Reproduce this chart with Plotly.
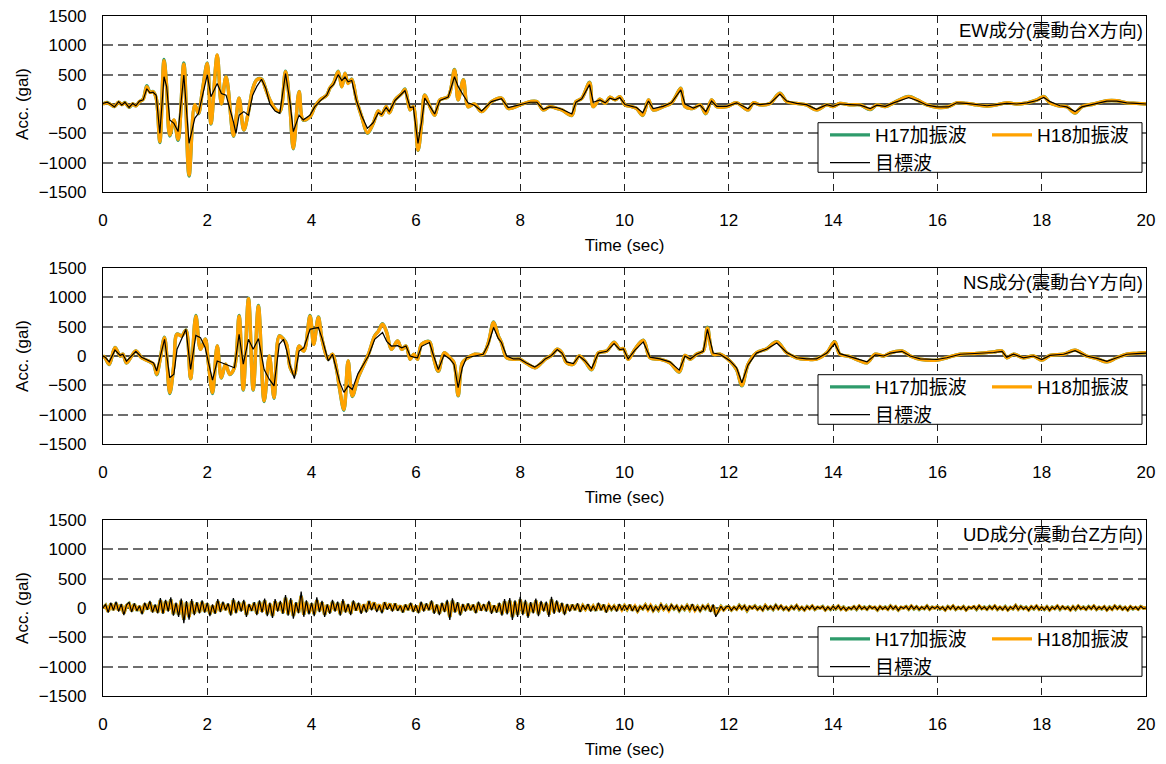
import numpy as np
import plotly.graph_objects as go

# ---------------------------------------------------------------- EW (X) ----
ew_time = [
    0.00, 0.08, 0.15, 0.22, 0.30, 0.36, 0.42, 0.50, 0.57, 0.63,
    0.70, 0.77, 0.84, 0.90, 0.96, 1.02, 1.09, 1.17, 1.22, 1.28,
    1.36, 1.44, 1.55, 1.65, 1.76, 1.83, 1.91, 2.00, 2.07, 2.19,
    2.27, 2.36, 2.50, 2.55, 2.61, 2.70, 2.79, 2.87, 2.95, 3.04,
    3.12, 3.20, 3.30, 3.39, 3.50, 3.58, 3.65, 3.76, 3.84, 3.97,
    4.06, 4.16, 4.29, 4.35, 4.42, 4.51, 4.58, 4.64, 4.70, 4.77,
    4.86, 4.96, 5.07, 5.18, 5.28, 5.34, 5.43, 5.49, 5.60, 5.73,
    5.79, 5.89, 5.95, 6.04, 6.11, 6.17, 6.27, 6.36, 6.46, 6.62,
    6.74, 6.81, 6.91, 7.00, 7.12, 7.26, 7.45, 7.64, 7.77, 8.00,
    8.19, 8.32, 8.44, 8.57, 8.70, 8.80, 8.99, 9.07, 9.18, 9.33,
    9.40, 9.53, 9.63, 9.72, 9.82, 9.91, 10.01, 10.14, 10.23, 10.35,
    10.46, 10.55, 10.74, 10.90, 10.98, 11.08, 11.16, 11.32, 11.45, 11.56,
    11.67, 11.77, 11.96, 12.15, 12.37, 12.47, 12.60, 12.79, 12.98, 13.11,
    13.30, 13.49, 13.68, 13.88, 14.00, 14.13, 14.32, 14.52, 14.71, 14.84,
    15.00, 15.16, 15.45, 15.61, 15.80, 15.99, 16.21, 16.37, 16.56, 16.76,
    16.95, 17.14, 17.33, 17.52, 17.72, 17.91, 18.04, 18.16, 18.35, 18.48,
    18.64, 18.77, 19.00, 19.25, 19.44, 19.63, 19.82, 20.00,
]
ew_h17 = [
    0, 25, -10, -45, 30, -10, 25, -55, 0, -30,
    40, 85, 310, 205, 215, 100, -655, 760, 305, -545,
    -275, -620, 700, -1230, -10, -165, 255, 700, -340, 830,
    0, 470, -550, -255, 100, -445, -130, 255, 415, 425,
    255, 70, -80, -135, 560, 0, -765, 215, -275, -215,
    -50, 70, 150, 270, 355, 560, 295, 525, 355, 425,
    70, -215, -500, -335, -120, -190, -45, -150, 70, 180,
    255, -100, -45, -790, -335, 155, -45, -190, 70, 125,
    590, 70, 415, -45, 0, -130, 40, 100, -75, -15,
    40, 40, -100, -45, -75, -100, -195, 40, 95, 370,
    -45, 80, 10, 115, 70, 125, -15, -45, -75, -195,
    70, -100, -45, 20, 125, 270, -45, -75, -15, -165,
    70, -45, -45, 20, -100, 20, -15, 10, 185, 40,
    10, -15, -100, -15, -45, 10, -15, -15, -95, -15,
    -45, 20, 130, 70, -15, -55, -45, 20, 10, -15,
    -35, -15, 20, 0, 20, 70, 130, 20, -35, -45,
    -155, -45, 0, 55, 55, 20, 10, 0,
]
ew_h18 = [
    0, 20, -10, -40, 30, -10, 20, -50, 0, -30,
    40, 80, 295, 200, 210, 100, -640, 740, 300, -530,
    -270, -600, 680, -1210, -10, -160, 250, 690, -330, 835,
    0, 465, -540, -250, 100, -440, -130, 250, 410, 420,
    250, 70, -80, -130, 550, 0, -755, 210, -270, -215,
    -50, 70, 150, 270, 350, 550, 295, 520, 350, 420,
    70, -215, -490, -330, -120, -190, -45, -150, 70, 180,
    250, -100, -45, -785, -330, 150, -45, -190, 70, 125,
    580, 70, 410, -45, 0, -130, 40, 100, -75, -15,
    40, 40, -100, -45, -75, -100, -190, 40, 95, 365,
    -45, 80, 10, 115, 70, 125, -15, -45, -75, -190,
    70, -100, -45, 20, 125, 265, -45, -75, -15, -160,
    70, -45, -45, 20, -100, 20, -15, 10, 180, 40,
    10, -15, -100, -15, -45, 10, -15, -15, -90, -15,
    -45, 20, 125, 70, -15, -55, -45, 20, 10, -15,
    -35, -15, 20, 0, 20, 70, 125, 20, -35, -45,
    -150, -45, 0, 55, 55, 20, 10, 0,
]
ew_target = [
    10, 30, -5, -50, 40, -20, 30, -60, 10, -30,
    50, 70, 260, 190, 200, 150, -500, 465, 295, -270,
    -330, -470, 495, -670, -245, -160, 150, 495, 125, 350,
    180, 150, -300, -500, -190, -130, -190, 150, 300, 420,
    270, 0, -120, -160, 520, 70, -470, -190, -270, -190,
    -50, 50, 150, 270, 330, 500, 400, 460, 380, 400,
    60, -200, -415, -320, -150, -180, -60, -130, 60, 170,
    230, -60, -50, -670, -300, 100, -40, -170, 60, 120,
    465, 300, 150, 20, -20, -120, 40, 90, -60, -10,
    30, 30, -90, -50, -60, -90, -170, 30, 90, 330,
    30, 70, 20, 100, 70, 110, -10, -40, -60, -150,
    50, -80, -40, 20, 110, 240, 0, -70, -20, -130,
    50, -40, -40, 20, -80, 10, -10, 10, 170, 50,
    10, -10, -90, -10, -40, 0, -10, -20, -80, -20,
    -40, 20, 110, 60, -20, -50, -50, 20, 10, -10,
    -30, -10, 10, 0, 20, 60, 110, 40, -30, -50,
    -130, -50, 0, 50, 50, 20, 10, 0,
]

# ---------------------------------------------------------------- NS (Y) ----
ns_time = [
    0.00, 0.04, 0.12, 0.23, 0.33, 0.38, 0.45, 0.55, 0.63, 0.74,
    0.87, 0.97, 1.03, 1.09, 1.18, 1.28, 1.36, 1.42, 1.51, 1.59,
    1.68, 1.78, 1.87, 1.96, 2.02, 2.10, 2.19, 2.27, 2.35, 2.43,
    2.52, 2.61, 2.69, 2.79, 2.88, 2.98, 3.09, 3.19, 3.28, 3.38,
    3.46, 3.52, 3.59, 3.67, 3.76, 3.85, 3.97, 4.04, 4.13, 4.20,
    4.32, 4.40, 4.48, 4.54, 4.62, 4.70, 4.78, 4.89, 4.99, 5.09,
    5.21, 5.28, 5.36, 5.44, 5.53, 5.65, 5.73, 5.81, 5.89, 5.96,
    6.03, 6.11, 6.26, 6.33, 6.43, 6.54, 6.65, 6.73, 6.81, 6.89,
    6.97, 7.13, 7.29, 7.39, 7.49, 7.58, 7.64, 7.74, 7.87, 7.99,
    8.12, 8.28, 8.41, 8.48, 8.60, 8.71, 8.80, 8.89, 9.02, 9.13,
    9.24, 9.37, 9.50, 9.66, 9.80, 9.91, 9.98, 10.07, 10.20, 10.36,
    10.49, 10.68, 10.87, 11.05, 11.16, 11.26, 11.38, 11.51, 11.59, 11.70,
    11.83, 12.02, 12.15, 12.25, 12.37, 12.53, 12.73, 12.92, 13.11, 13.30,
    13.49, 13.68, 13.88, 14.03, 14.13, 14.32, 14.52, 14.65, 14.81, 14.97,
    15.10, 15.32, 15.48, 15.67, 15.99, 16.18, 16.44, 16.76, 17.08, 17.24,
    17.33, 17.46, 17.65, 17.84, 18.00, 18.16, 18.42, 18.64, 18.86, 19.06,
    19.25, 19.44, 19.63, 19.82, 20.00,
]
ns_h17 = [
    0, -30, -145, 145, 0, 30, -120, 0, 85, -30,
    -85, -145, -320, -85, 320, -640, -140, 375, 345, 445,
    -390, 690, 115, 290, -115, -640, 170, -375, -140, -315,
    -200, 690, -580, 985, -580, 860, -775, 0, -720, 345,
    290, 200, -200, -315, 170, 85, 690, 200, 665, 285,
    -55, 30, -235, -580, -925, -85, -690, -375, -170, 30,
    345, 425, 550, 405, 115, 255, 115, 170, -55, 30,
    -55, 200, 245, 0, -260, 55, -30, -115, -680, -115,
    -45, 30, 30, 230, 580, 345, 230, -30, -55, -55,
    -125, -200, -115, -55, 10, 115, 55, -115, -140, 0,
    -85, -235, 55, 85, 235, 115, 125, -55, 115, 270,
    -30, -55, -115, -275, 10, -55, 30, 85, 490, 30,
    30, -85, -235, -510, -140, 55, 125, 245, 55, -30,
    -55, -55, 55, 245, 30, -10, -85, -115, 30, 0,
    55, 85, 0, -55, -70, -30, 30, 45, 70, 85,
    -30, 30, -30, 0, -70, 10, 30, 100, 0, -45,
    -100, -30, 30, 45, 55,
]
ns_h18 = [
    0, -30, -140, 140, 0, 30, -115, 0, 85, -30,
    -85, -140, -310, -85, 310, -625, -140, 370, 340, 440,
    -385, 680, 115, 285, -115, -625, 170, -370, -140, -310,
    -200, 680, -570, 975, -570, 850, -765, 0, -710, 340,
    285, 200, -200, -310, 170, 85, 680, 200, 655, 285,
    -55, 30, -230, -570, -910, -85, -680, -370, -170, 30,
    340, 420, 540, 400, 115, 255, 115, 170, -55, 30,
    -55, 200, 240, 0, -255, 55, -30, -115, -670, -115,
    -45, 30, 30, 230, 570, 340, 230, -30, -55, -55,
    -125, -200, -115, -55, 10, 115, 55, -115, -140, 0,
    -85, -230, 55, 85, 230, 115, 125, -55, 115, 265,
    -30, -55, -115, -270, 10, -55, 30, 85, 480, 30,
    30, -85, -230, -500, -140, 55, 125, 240, 55, -30,
    -55, -55, 55, 240, 30, -10, -85, -115, 30, 0,
    55, 85, 0, -55, -70, -30, 30, 45, 70, 85,
    -30, 30, -30, 0, -70, 10, 30, 100, 0, -45,
    -100, -30, 30, 45, 55,
]
ns_target = [
    0, -20, -100, 100, 10, 30, -90, 0, 80, -20,
    -70, -120, -255, -50, 285, -370, -310, 115, 300, 455,
    -230, 350, 310, 140, -100, -410, -85, -115, -150, -170,
    -200, 370, -140, 285, 115, 295, -230, -400, -510, 200,
    285, 100, -170, -385, 85, 140, 455, 470, 485, 300,
    -85, 30, -260, -450, -620, -510, -570, -300, -150, 0,
    285, 340, 400, 250, 170, 175, 140, 170, 0, -20,
    -30, 165, 230, 30, -230, 20, -50, -140, -540, -200,
    -30, 0, 30, 200, 485, 300, 230, 0, -50, -50,
    -120, -190, -110, -50, 10, 110, 50, -100, -130, 0,
    -80, -210, 50, 80, 210, 110, 120, -50, 100, 240,
    -20, -50, -100, -240, 0, -50, 30, 80, 455, 50,
    30, -80, -200, -455, -150, 50, 120, 220, 60, -30,
    -50, -50, 50, 210, 40, -10, -60, -100, 20, 0,
    50, 80, 0, -50, -60, -30, 30, 40, 60, 80,
    -20, 30, -30, 0, -60, 10, 30, 90, 0, -40,
    -90, -30, 30, 40, 50,
]

# ---------------------------------------------------------------- UD (Z) ----
# sampled every 0.05 s, one row per second
ud_dt = 0.05
ud_target = [
    0, 60, -80, 90, -40, 110, -60, 70, -120, 50, 100, -70, 80, -50, 40, -110, 90, -30, 120, -80,
    60, -90, 170, -100, 140, -60, 180, -130, 90, -150, 160, -260, 120, -200, 150, -120, 100, -90, 130, -80,
    90, -140, 60, -100, 150, -70, 110, -40, 80, -130, 170, -90, 120, -60, 140, -150, 70, -50, 100, -120,
    130, -80, 160, -140, 90, -170, 150, -60, 120, -100, 220, -130, 170, -180, 100, -90, 280, -150, 130, -110,
    90, -140, 180, -70, 120, -150, 60, -100, 140, -60, 110, -130, 150, -80, 70, -120, 130, -50, 90, -100,
    60, -80, 120, -40, 90, -70, 50, -90, 100, -30, 70, -60, 80, -50, 40, -80, 60, -40, 90, -70,
    50, -90, 110, -60, 80, -40, 130, -100, 60, -120, 90, -70, 140, -205, 165, -80, 100, -130, 70, -60,
    80, -40, 60, -90, 110, -50, 70, -60, 120, -100, 50, -80, 90, -130, 150, -110, 170, -205, 130, -150,
    190, -120, 140, -170, 100, -90, 160, -140, 120, -60, 110, -150, 190, -100, 130, -80, 90, -120, 70, -60,
    60, -40, 80, -70, 50, -30, 70, -60, 40, -50, 90, -40, 60, -80, 50, -30, 40, -60, 70, -40,
    50, -30, 60, -50, 40, -70, 30, -20, 60, -40, 50, -60, 30, -40, 70, -30, 40, -50, 60, -20,
    40, -60, 30, -30, 50, -40, 70, -50, 30, -60, 40, -20, 50, -70, 60, -150, -60, 30, -40, 20,
    30, -40, 20, -30, 50, -20, 40, -50, 30, -10, 40, -30, 20, -40, 50, -20, 30, -30, 60, -20,
    40, -30, 20, -40, 30, -20, 50, -30, 20, -40, 30, -20, 40, -30, 20, -10, 30, -40, 20, -30,
    30, -20, 40, -30, 20, -40, 10, -20, 30, -30, 40, -20, 20, -30, 30, -10, 20, -40, 30, -20,
    20, -30, 40, -20, 30, -40, 20, -10, 30, -30, 40, -20, 30, -30, 20, -20, 40, -30, 20, -10,
    30, -20, 20, -40, 30, -20, 40, -30, 20, -20, 30, -40, 20, -10, 30, -30, 40, -20, 20, -30,
    30, -20, 40, -30, 20, -30, 30, -40, 20, -20, 50, -30, 30, -20, 20, -40, 30, -20, 40, -30,
    20, -30, 30, -40, 20, -20, 40, -30, 30, -20, 20, -40, 30, -30, 40, -20, 20, -30, 30, -20,
    40, -30, 20, -20, 30, -40, 20, -30, 40, -20, 30, -30, 20, -40, 30, -20, 20, -30, 30, -10,
    0,
]
ud_h18 = [
    0, 40, -60, 70, -30, 80, -40, 50, -90, 40, 70, -50, 60, -40, 30, -80, 70, -20, 90, -60,
    40, -70, 130, -80, 110, -40, 140, -100, 70, -110, 120, -190, 90, -150, 110, -90, 80, -70, 100, -60,
    70, -100, 40, -80, 110, -50, 80, -30, 60, -100, 130, -70, 90, -40, 100, -110, 50, -40, 80, -90,
    100, -60, 120, -100, 70, -130, 110, -40, 90, -80, 170, -100, 130, -130, 80, -70, 200, -110, 100, -80,
    70, -100, 130, -50, 90, -110, 50, -70, 100, -40, 80, -100, 110, -60, 50, -90, 100, -40, 70, -70,
    60, -50, 110, -20, 90, -40, 60, -60, 90, -10, 70, -40, 70, -30, 40, -60, 50, -30, 70, -50,
    40, -70, 80, -40, 60, -30, 100, -70, 50, -90, 70, -50, 100, -150, 120, -60, 80, -100, 50, -40,
    60, -30, 50, -70, 80, -40, 50, -40, 90, -70, 40, -60, 70, -100, 110, -80, 120, -150, 100, -110,
    140, -90, 100, -130, 80, -70, 120, -100, 90, -40, 80, -110, 140, -70, 100, -60, 70, -90, 50, -40,
    50, -30, 60, -50, 40, -20, 50, -40, 30, -40, 70, -30, 50, -60, 40, -20, 30, -40, 50, -30,
    40, -20, 50, -40, 30, -50, 20, -10, 50, -30, 40, -40, 20, -30, 50, -20, 30, -40, 40, -10,
    30, -40, 20, -20, 40, -30, 50, -40, 20, -40, 30, -10, 40, -50, 40, -100, -50, 20, -30, 10,
    20, -30, 10, -20, 40, -10, 30, -40, 20, 0, 30, -20, 10, -30, 40, -10, 20, -20, 40, -10,
    30, -20, 10, -30, 20, -10, 40, -20, 10, -30, 20, -10, 30, -20, 10, 0, 20, -30, 10, -20,
    20, -10, 30, -20, 10, -30, 0, -10, 20, -20, 30, -10, 10, -20, 20, 0, 10, -30, 20, -10,
    10, -20, 30, -10, 20, -30, 10, 0, 20, -20, 30, -10, 20, -20, 10, -10, 30, -20, 10, 0,
    20, -10, 10, -30, 20, -10, 30, -20, 10, -10, 20, -30, 10, 0, 20, -20, 30, -10, 10, -20,
    20, -10, 30, -20, 10, -20, 20, -30, 10, -10, 40, -20, 20, -10, 10, -30, 20, -10, 30, -20,
    10, -20, 20, -30, 10, -10, 30, -20, 20, -10, 10, -30, 20, -20, 30, -10, 10, -20, 20, -10,
    30, -20, 10, -10, 20, -30, 10, -20, 30, -10, 20, -20, 10, -30, 20, -10, 10, -20, 20, 0,
    0,
]
ud_h17 = [
    0, 45, -60, 75, -30, 85, -40, 55, -90, 40, 75, -50, 65, -45, 30, -85, 70, -25, 95, -60,
    45, -70, 135, -85, 115, -40, 145, -105, 70, -115, 125, -200, 95, -155, 115, -95, 85, -70, 105, -65,
    75, -105, 40, -85, 115, -50, 85, -30, 65, -105, 135, -70, 95, -45, 105, -115, 50, -45, 85, -95,
    105, -60, 125, -105, 70, -135, 115, -40, 95, -85, 175, -105, 135, -135, 85, -70, 210, -115, 105, -85,
    75, -105, 135, -50, 95, -115, 50, -75, 105, -40, 85, -105, 115, -60, 50, -95, 105, -40, 75, -70,
    60, -55, 115, -20, 95, -40, 60, -65, 95, -10, 75, -40, 75, -30, 40, -65, 50, -30, 75, -50,
    40, -75, 85, -40, 65, -30, 105, -75, 50, -95, 75, -50, 105, -155, 125, -65, 85, -105, 50, -40,
    65, -30, 50, -75, 85, -40, 50, -45, 95, -70, 40, -65, 75, -105, 115, -85, 125, -155, 105, -115,
    145, -95, 105, -135, 85, -70, 125, -105, 95, -40, 85, -115, 145, -70, 105, -60, 75, -95, 50, -40,
    55, -30, 60, -55, 40, -20, 55, -40, 30, -45, 70, -30, 55, -60, 40, -25, 30, -40, 55, -30,
    40, -25, 50, -40, 35, -50, 20, -15, 50, -30, 45, -40, 20, -35, 50, -20, 35, -40, 40, -15,
    30, -45, 20, -25, 40, -30, 55, -40, 25, -40, 30, -15, 40, -55, 45, -105, -50, 25, -30, 15,
    20, -35, 10, -20, 45, -10, 30, -45, 20, 0, 35, -20, 15, -30, 40, -15, 20, -25, 45, -10,
    30, -25, 10, -30, 25, -10, 40, -25, 10, -30, 25, -10, 30, -25, 10, 0, 25, -30, 10, -25,
    20, -15, 30, -20, 15, -30, 0, -15, 20, -25, 30, -10, 15, -20, 25, 0, 10, -35, 20, -10,
    15, -20, 35, -10, 20, -35, 10, 0, 25, -20, 30, -15, 20, -25, 10, -10, 35, -20, 15, 0,
    20, -15, 10, -30, 25, -10, 30, -25, 10, -10, 25, -30, 10, 0, 20, -25, 30, -10, 15, -20,
    25, -10, 30, -25, 10, -20, 25, -30, 10, -15, 40, -20, 25, -10, 15, -30, 20, -15, 30, -20,
    10, -25, 20, -30, 15, -10, 30, -25, 20, -10, 15, -30, 20, -25, 30, -10, 15, -20, 25, -10,
    30, -25, 10, -15, 20, -30, 15, -20, 30, -10, 25, -20, 10, -30, 20, -15, 10, -20, 25, 0,
    0,
]
ud_time = list(np.round(np.arange(len(ud_target)) * ud_dt, 2))

panel_titles = ["EW成分(震動台X方向)", "NS成分(震動台Y方向)", "UD成分(震動台Z方向)"]
series_names = ["H17加振波", "H18加振波", "目標波"]
y_ticks = [-1500, -1000, -500, 0, 500, 1000, 1500]
x_ticks = list(range(0, 21, 2))

panels = [
    (ew_time, ew_h17, ew_h18, ew_target),
    (ns_time, ns_h17, ns_h18, ns_target),
    (ud_time, ud_h17, ud_h18, ud_target),
]
for p in panels:
    assert len(set(map(len, p))) == 1, [len(a) for a in p]

# ---------------------------------------------------------------- styling ----
FONT = "Liberation Sans, Arial, Noto Sans CJK JP, sans-serif"
GREEN = "#2e9b6b"
ORANGE = "#ffa200"
W, H = 1166, 764
ML, MR, MT, MB = 103, 20, 16, 68
plot_w = W - ML - MR
plot_h = H - MT - MB


def px_y(px):
    """pixel row -> paper fraction"""
    return (H - MB - px) / plot_h


def px_x(px):
    """pixel column -> paper fraction"""
    return (px - ML) / plot_w


panel_px = [(16, 192), (268, 444), (520, 696)]

fig = go.Figure()
layout = {}
shapes = []
for i, (t, h17, h18, tgt) in enumerate(panels):
    n = i + 1
    sfx = "" if n == 1 else str(n)
    xa, ya, lg = "x" + sfx, "y" + sfx, "legend" + sfx
    shape = "spline" if i < 2 else "linear"
    common = dict(mode="lines", xaxis=xa, yaxis=ya, legend=lg)
    fig.add_trace(go.Scatter(x=t, y=h17, name=series_names[0], legendgroup=f"a{n}",
                             line=dict(color=GREEN, width=3.4, shape=shape), **common))
    fig.add_trace(go.Scatter(x=t, y=h18, name=series_names[1], legendgroup=f"b{n}",
                             line=dict(color=ORANGE, width=3.4, shape=shape), **common))
    fig.add_trace(go.Scatter(x=t, y=tgt, name=series_names[2], legendgroup=f"a{n}",
                             line=dict(color="black", width=1.2), **common))

    top, bot = panel_px[i]
    layout["xaxis" + sfx] = dict(
        domain=[0, 1], anchor=ya, range=[0, 20], tickvals=x_ticks,
        showgrid=True, gridcolor="#222222", gridwidth=1, griddash="7px,5px",
        zeroline=False, showline=True, linecolor="black", linewidth=1.3, mirror=True,
        ticks="", ticklabelstandoff=12,
        tickfont=dict(family=FONT, size=17, color="black"),
        title=dict(text="Time (sec)", font=dict(family=FONT, size=17, color="black"), standoff=10),
    )
    layout["yaxis" + sfx] = dict(
        domain=[px_y(bot), px_y(top)], anchor=xa, range=[-1500, 1500], tickvals=y_ticks,
        showgrid=True, gridcolor="#6e6e6e", gridwidth=1.5, griddash="10px,5px",
        zeroline=True, zerolinecolor="#505050", zerolinewidth=1.5,
        showline=True, linecolor="black", linewidth=1.3, mirror=True,
        ticks="", ticklabelstandoff=12,
        tickfont=dict(family=FONT, size=17, color="black"),
        title=dict(text="Acc. (gal)", font=dict(family=FONT, size=17, color="black"), standoff=5),
    )
    # legend frame drawn as a shape so its padding can be tight
    shapes.append(dict(
        type="rect", xref="paper", yref="paper", layer="above",
        x0=px_x(818), x1=px_x(1142), y0=px_y(top + 156.3), y1=px_y(top + 106.7),
        fillcolor="white", line=dict(color="black", width=1),
    ))
    layout[lg] = dict(
        x=px_x(825), y=px_y(top + 100), xanchor="left", yanchor="top",
        orientation="h", traceorder="grouped", tracegroupgap=0,
        bgcolor="rgba(0,0,0,0)", borderwidth=0,
        font=dict(family=FONT, size=19, color="black"),
        itemwidth=40, entrywidth=107,
    )

annotations = [
    dict(text=panel_titles[i], xref="paper", yref="paper", x=1, y=px_y(panel_px[i][0] + 14),
         xanchor="right", yanchor="middle", showarrow=False, xshift=-1,
         font=dict(family=FONT, size=18.5, color="black"))
    for i in range(3)
]

fig.update_layout(
    width=W, height=H, margin=dict(l=ML, r=MR, t=MT, b=MB, autoexpand=False),
    paper_bgcolor="white", plot_bgcolor="white",
    annotations=annotations, shapes=shapes, **layout,
)
fig.write_html("out.html")
